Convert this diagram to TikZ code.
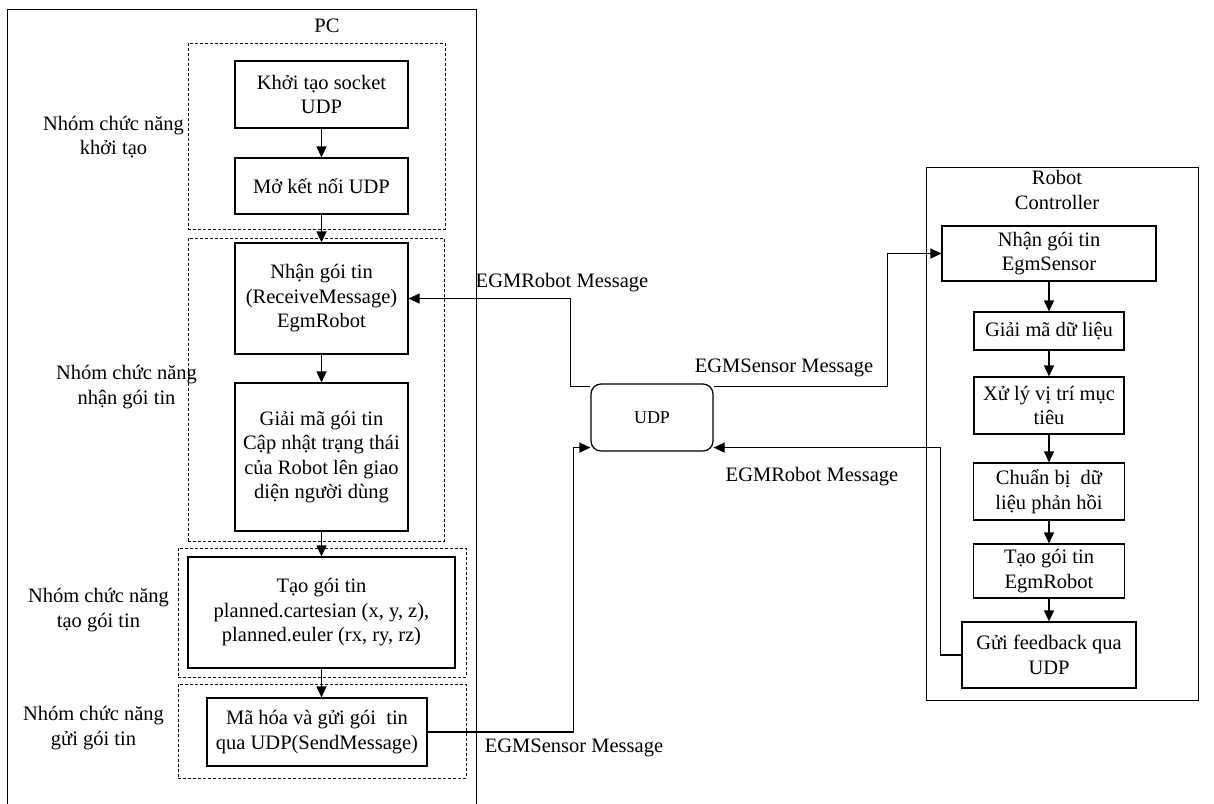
\documentclass[tikz,border=0pt]{standalone}
\usepackage{fontspec}
\setmainfont{Liberation Serif}
\usetikzlibrary{arrows.meta,calc}
\begin{document}
\begin{tikzpicture}[x=1pt,y=-1pt,
  txt/.style={font=\fontsize{20.5}{24.5}\selectfont, align=center, inner sep=0pt},
  boxn/.style={txt, draw, line width=1.2pt},
  grp/.style={draw, dashed, dash pattern=on 3pt off 2pt, line width=0.8pt, inner sep=0pt},
  arr/.style={line width=1.2pt, -{Triangle[length=11pt,width=10pt]}},
  ln/.style={line width=1.2pt}]
\useasboundingbox (0,0) rectangle (1214,803);
% PC outer
\draw[line width=0.9pt] (7,812) -- (7,9) -- (476,9) -- (476,812);
\node[txt] (pc) at (327,26) {PC};
% groups
\node[grp, minimum width=257, minimum height=186] (g1) at (316.5,136) {};
\node[grp, minimum width=256, minimum height=303] (g2) at (316,389.5) {};
\node[grp, minimum width=288, minimum height=129] (g3) at (322,612.5) {};
\node[grp, minimum width=288, minimum height=94] (g4) at (322,731) {};
% group labels
\node[txt] (l1) at (113.5,137) {Nhóm chức năng\\khởi tạo};
\node[txt] (l2) at (126.5,387) {Nhóm chức năng\\nhận gói tin};
\node[txt] (l3) at (98.5,610) {Nhóm chức năng\\tạo gói tin};
\node[txt] (l4) at (93.5,728) {Nhóm chức năng\\gửi gói tin};
% PC boxes
\node[boxn, minimum width=173, minimum height=67] (k1) at (321.5,94.5) {Khởi tạo socket\\UDP};
\node[boxn, minimum width=173, minimum height=56] (k2) at (321.5,186) {Mở kết nối UDP};
\node[boxn, minimum width=173, minimum height=111] (recv) at (321.5,298.5) {Nhận gói tin\\(ReceiveMessage)\\EgmRobot};
\node[boxn, minimum width=173, minimum height=148] (dec) at (321.5,457) {Giải mã gói tin\\Cập nhật trạng thái\\của Robot lên giao\\diện người dùng};
\node[boxn, minimum width=267, minimum height=111] (mk) at (321.5,612.5) {Tạo gói tin\\planned.cartesian (x, y, z),\\planned.euler (rx, ry, rz)};
\node[boxn, minimum width=220, minimum height=68] (ma) at (317,732) {Mã hóa và gửi gói\ \ tin\\qua UDP(SendMessage)};
\draw[arr] (k1.south) -- (k2.north);
\draw[arr] (k2.south) -- (recv.north);
\draw[arr] (recv.south) -- (dec.north);
\draw[arr] (dec.south) -- (mk.north);
\draw[arr] (mk.south) -- (mk.south |- ma.north);
% UDP
\node[txt, draw, line width=1.2pt, rounded corners=10pt, minimum width=122, minimum height=67, font=\fontsize{18}{22}\selectfont] (udp) at (652,417.5) {UDP};
% Robot controller
\draw[line width=0.9pt] (926,167) rectangle (1198,700);
\node[txt] (rc) at (1057,190) {Robot\\Controller};
\node[boxn, minimum width=214, minimum height=55] (rn) at (1049,253.5) {Nhận gói tin\\EgmSensor};
\node[boxn, minimum width=150, minimum height=38] (rg) at (1049,331) {Giải mã dữ liệu};
\node[boxn, minimum width=150, minimum height=57] (rx) at (1049,405.5) {Xử lý vị trí mục\\tiêu};
\node[boxn, minimum width=151, minimum height=57] (rp) at (1049,491.5) {Chuẩn bị\ \ dữ\\liệu phản hồi};
\node[boxn, minimum width=151, minimum height=54] (rt) at (1049,571) {Tạo gói tin\\EgmRobot};
\node[boxn, minimum width=174, minimum height=66] (fb) at (1049,655) {Gửi feedback qua\\UDP};
\draw[arr] (rn.south) -- (rg.north);
\draw[arr] (rg.south) -- (rx.north);
\draw[arr] (rx.south) -- (rp.north);
\draw[arr] (rp.south) -- (rt.north);
\draw[arr] (rt.south) -- (fb.north);
% connectors via UDP
\draw[arr] ([yshift=-3pt]udp.north west) -- ++(-20,0) |- (recv.east);
\draw[arr] ([yshift=-3pt]udp.north east) -- ++(174,0) |- (rn.west);
\draw[arr] (ma.east) -- ++(146,0) |- ([yshift=4pt]udp.south west);
\draw[arr] (fb.west) -- ++(-21,0) |- ([yshift=4pt]udp.south east);
% message labels
\node[txt] (m1) at (562,283) {EGMRobot Message};
\node[txt] (m2) at (784,368) {EGMSensor Message};
\node[txt] (m3) at (812,477) {EGMRobot Message};
\node[txt] (m4) at (574,748) {EGMSensor Message};
\end{tikzpicture}
\end{document}
